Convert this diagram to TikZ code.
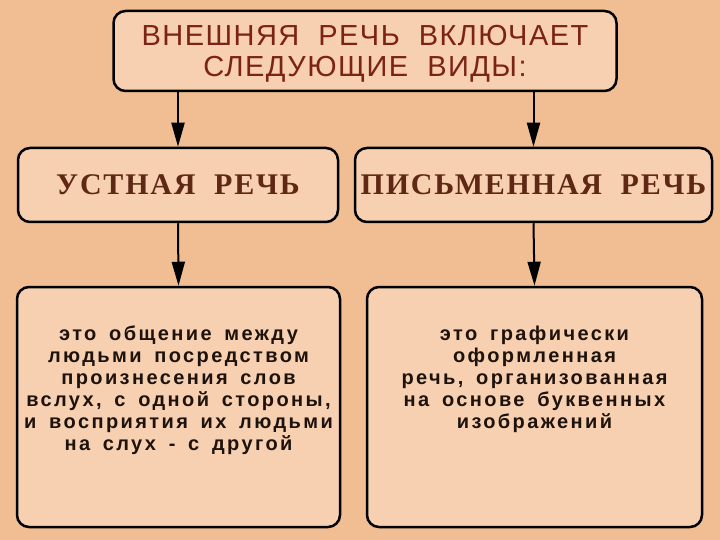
\documentclass[tikz,border=0pt]{standalone}
\usepackage{fontspec}
\setmainfont{Liberation Sans}
\newfontfamily\headfont[LetterSpace=5,WordSpace=2]{Liberation Sans}
\newfontfamily\kindfont[LetterSpace=6]{Liberation Serif}
\newfontfamily\notefont[LetterSpace=12,WordSpace=1.6]{Liberation Sans}
\usetikzlibrary{arrows.meta,positioning}
\definecolor{bgtan}{RGB}{240,190,146}
\definecolor{boxfill}{RGB}{246,208,176}
\definecolor{headred}{RGB}{125,35,20}
\definecolor{kindbrown}{RGB}{95,40,20}
\definecolor{notedark}{RGB}{30,18,12}

\tikzset{
    box/.style={draw=black, line width=2.5pt, fill=boxfill, rounded corners=12pt, inner sep=0pt},
    down/.style={-{Triangle[width=13pt,length=24pt]}, line width=2pt},
    kind/.style={font=\kindfont\bfseries\fontsize{30}{30}\selectfont, text=kindbrown},
    note/.style={font=\notefont\bfseries\fontsize{20}{22}\selectfont, text=notedark, align=center}
}

\begin{document}
\begin{tikzpicture}[x=1pt,y=-1pt]
    \fill[bgtan] (0,0) rectangle (720,540);
    \useasboundingbox (0,0) rectangle (720,540);
    % top box
    \node[box, minimum width=503pt, minimum height=80pt] (speech) at (365,51) {};
    \node[text=headred, align=center, font=\headfont\fontsize{29}{31}\selectfont]
        (speechtext) at (365,54) {ВНЕШНЯЯ РЕЧЬ ВКЛЮЧАЕТ\\СЛЕДУЮЩИЕ ВИДЫ:};
    % two kinds
    \node[box, minimum width=320pt, minimum height=74pt, kind] (oral) at (178,185) {УСТНАЯ\ \ РЕЧЬ};
    \node[box, minimum width=357pt, minimum height=74pt, kind] (written) at (533.5,185) {ПИСЬМЕННАЯ\ \ РЕЧЬ};
    % descriptions
    \node[box, minimum width=323pt, minimum height=240pt] (oralbox) at (178.5,407) {};
    \node[box, minimum width=335pt, minimum height=240pt] (writtenbox) at (534.5,407) {};
    \node[note, below=37pt of oralbox.north] (oraltext) {это общение между\\людьми посредством\\произнесения слов\\вслух, с одной стороны,\\и восприятия их людьми\\на слух - с другой};
    \node[note, below=37pt of writtenbox.north] (writtentext) {это графически\\оформленная\\речь, организованная\\на основе буквенных\\изображений};
    % arrows
    \draw[down] (speech.south -| oral.north) -- (oral.north);
    \draw[down] (speech.south -| written.north) -- (written.north);
    \draw[down] (oral.south) -- (oralbox.north);
    \draw[down] (written.south) -- (writtenbox.north);
\end{tikzpicture}
\end{document}
